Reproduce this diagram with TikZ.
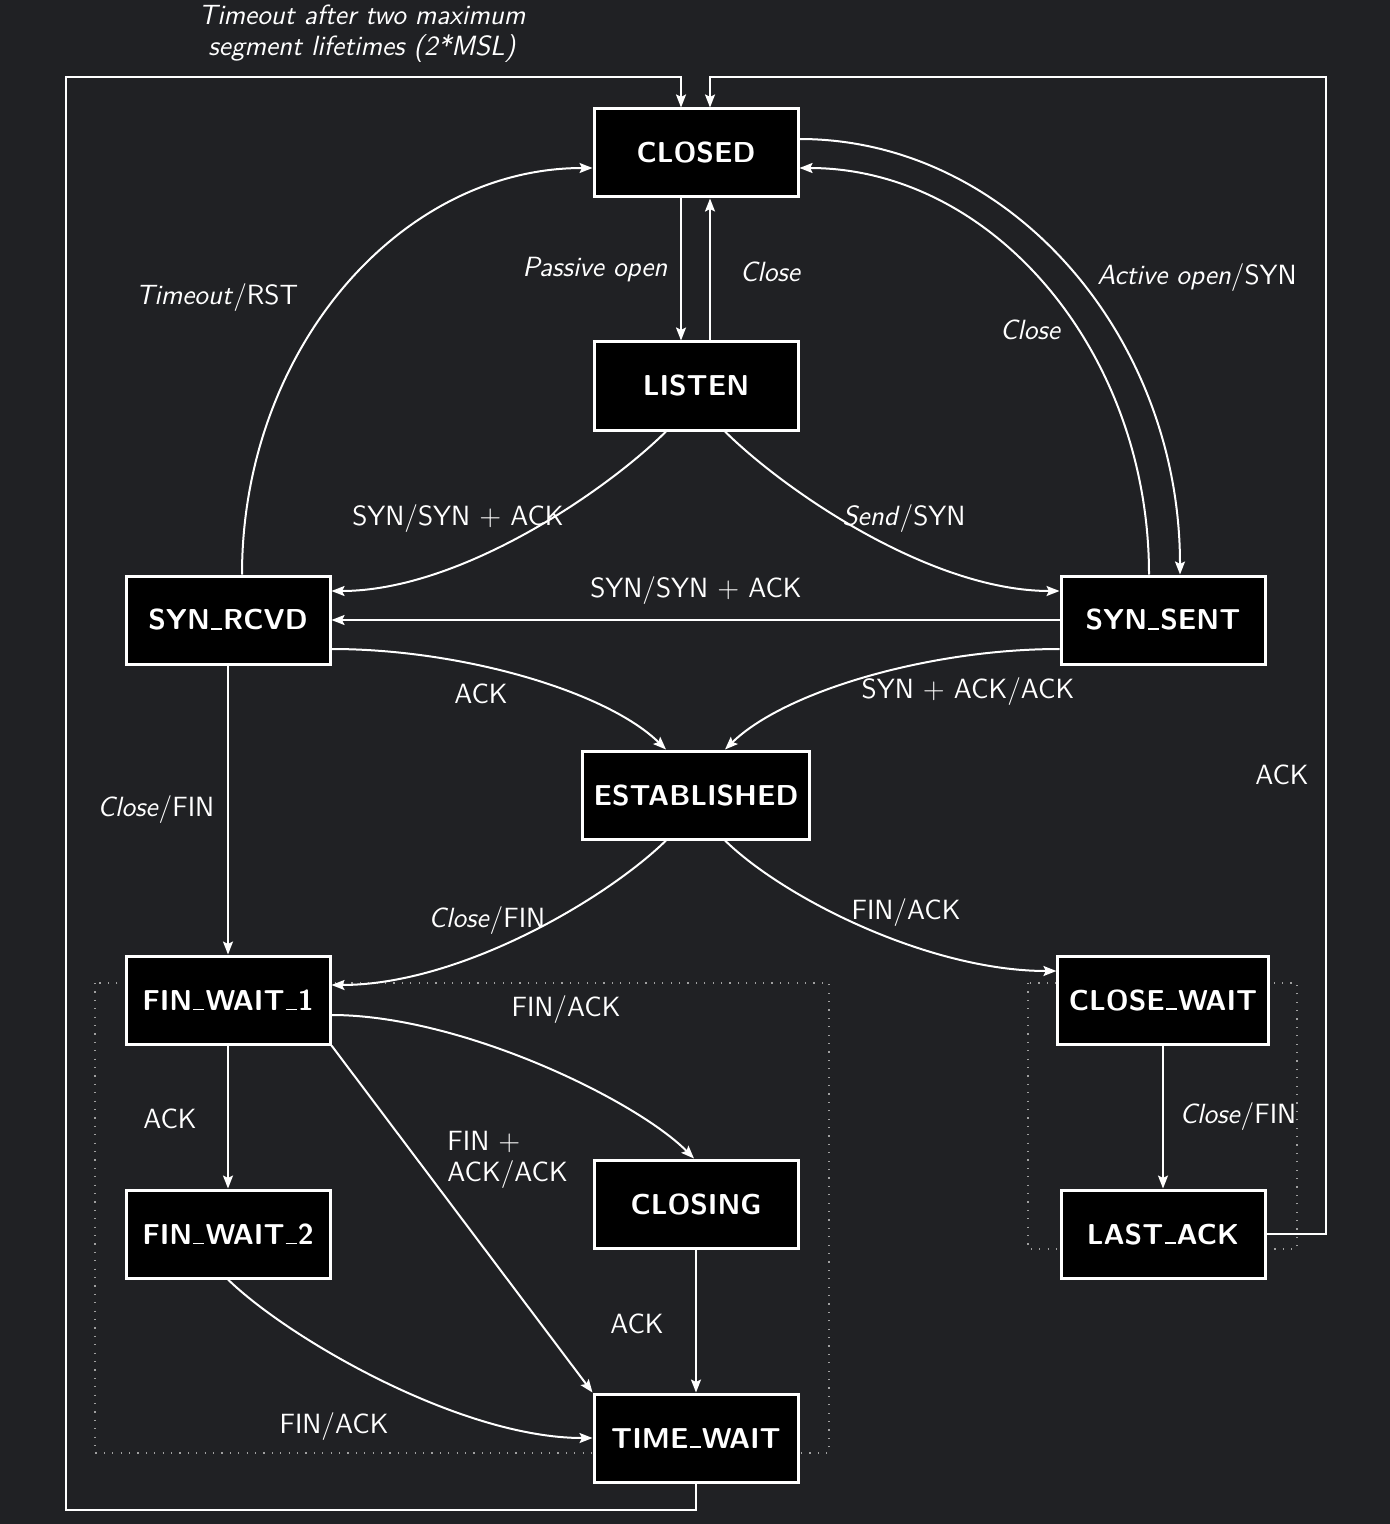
\documentclass[tikz,border=0pt]{standalone}
\usepackage{fontspec}
\usetikzlibrary{arrows.meta,calc}
\definecolor{bgc}{HTML}{202124}
\definecolor{dotc}{HTML}{A0A0A0}
\newcommand{\usc}{\kern0.04em\vbox{\hrule width 0.38em height 0.8pt}\kern0.04em}
\begin{document}
\begin{tikzpicture}[x=0.5pt,y=-0.5pt,
  font=\sffamily\fontsize{13.9}{15.5}\selectfont,
  state/.style={draw=white, line width=1.5pt, fill=black, minimum width=102pt,
    minimum height=44pt, inner xsep=5.5pt, text=white,
    font=\sffamily\bfseries\fontsize{14.4}{17}\selectfont},
  edge/.style={draw=white, line width=1pt, -{Stealth[length=6.5pt,width=5pt,inset=1.2pt]}},
  lbl/.style={text=white, inner sep=0pt},
  dotbox/.style={draw=dotc, line width=0.6pt, dash pattern=on 0.6pt off 3.6pt}]
\fill[bgc] (0,0) rectangle (1390,1524);
\useasboundingbox (0,0) rectangle (1390,1524);
% dotted groups
\draw[dotbox] (95,983) rectangle (829,1453);
\draw[dotbox] (1028,983) rectangle (1297,1249);
% states
\node[state] (closed)  at (696,153)  {CLOSED};
\node[state] (listen)  at (696,386)  {LISTEN};
\node[state] (synrcvd) at (228,620)  {SYN\usc RCVD};
\node[state] (synsent) at (1163,620) {SYN\usc SENT};
\node[state] (est)     at (696,795)  {ESTABLISHED};
\node[state] (fw1)     at (228,1000)  {FIN\usc WAIT\usc 1};
\node[state] (cw)      at (1163,1000) {CLOSE\usc WAIT};
\node[state] (fw2)     at (228,1234) {FIN\usc WAIT\usc 2};
\node[state] (closing) at (696,1204) {CLOSING};
\node[state] (lastack) at (1163,1234) {LAST\usc ACK};
\node[state] (tw)      at (696,1438) {TIME\usc WAIT};
% edges
\draw[edge] ($(closed.south)+(-15,0)$) -- ($(listen.north)+(-15,0)$);
\draw[edge] ($(listen.north)+(14,0)$) -- ($(closed.south)+(14,0)$);
\draw[edge] (tw.south) |- (66,1510) |- (681,77) -- ($(closed.north)+(-15,0)$);
\draw[edge] (lastack.east) -| (1326,77) -| ($(closed.north)+(14,0)$);
\draw[edge] ($(closed.east)+(0,-14)$) .. controls (1009,139) and (1180,335) .. ($(synsent.north)+(17,0)$);
\draw[edge] ($(synsent.north)+(-14,0)$) .. controls (1149,351) and (992,168) .. ($(closed.east)+(0,15)$);
\draw[edge] ($(synrcvd.north)+(14,0)$) .. controls (242,351) and (399,168) .. ($(closed.west)+(0,15)$);
\draw[edge] ($(listen.south)+(-30,0)$) .. controls (606,491) and (460,591) .. ($(synrcvd.east)+(0,-29)$);
\draw[edge] ($(listen.south)+(29,0)$) .. controls (785,491) and (931,591) .. ($(synsent.west)+(0,-29)$);
\draw[edge] (synsent.west) -- (synrcvd.east);
\draw[edge] ($(synrcvd.east)+(0,29)$) .. controls (461,649) and (606,691) .. ($(est.north)+(-30,0)$);
\draw[edge] ($(synsent.west)+(0,29)$) .. controls (930,649) and (785,691) .. ($(est.north)+(29,0)$);
\draw[edge] (synrcvd.south) -- (fw1.north);
\draw[edge] ($(est.south)+(-30,0)$) .. controls (606,899) and (460,985) .. ($(fw1.east)+(0,-15)$);
\draw[edge] ($(est.south)+(29,0)$) .. controls (785,899) and (930,971) .. ($(cw.west)+(0,-29)$);
\draw[edge] ($(fw1.east)+(0,15)$) .. controls (461,1015) and (636,1100) .. ($(closing.north)+(-2,0)$);
\draw[edge] (fw1.south east) -- (tw.north west);
\draw[edge] (fw1.south) -- (fw2.north);
\draw[edge] (closing.south) -- (tw.north);
\draw[edge] (fw2.south) .. controls (288,1338) and (460,1438) .. (tw.west);
\draw[edge] (cw.south) -- (lastack.north);
% labels
\node[lbl, align=center] (l0) at (362,34) {\itshape Timeout after two maximum\\\itshape segment lifetimes (2*MSL)};
\node[lbl] (l1) at (595,270) {\itshape Passive open};
\node[lbl] (l2) at (770,272) {\itshape Close};
\node[lbl] (l3) at (217,298) {\textit{Timeout}/RST};
\node[lbl] (l4) at (1197,278) {\textit{Active open}/SYN};
\node[lbl] (l5) at (1030,330) {\itshape Close};
\node[lbl] (l6) at (458,519) {SYN/SYN $+$ ACK};
\node[lbl] (l7) at (904,519) {\textit{Send}/SYN};
\node[lbl] (l8) at (696,591) {SYN/SYN $+$ ACK};
\node[lbl] (l9) at (481,694) {ACK};
\node[lbl] (l10) at (968,692) {SYN $+$ ACK/ACK};
\node[lbl] (l11) at (1282,775) {ACK};
\node[lbl] (l12) at (156,810) {\textit{Close}/FIN};
\node[lbl] (l13) at (487,921) {\textit{Close}/FIN};
\node[lbl] (l14) at (906,913) {FIN/ACK};
\node[lbl] (l15) at (566,1010) {FIN/ACK};
\node[lbl, align=left, anchor=west] (l16) at (447,1160) {FIN $+$\\ACK/ACK};
\node[lbl] (l17) at (170,1119) {ACK};
\node[lbl] (l18) at (637,1324) {ACK};
\node[lbl] (l19) at (334,1427) {FIN/ACK};
\node[lbl] (l20) at (1238,1117) {\textit{Close}/FIN};
\end{tikzpicture}
\end{document}
